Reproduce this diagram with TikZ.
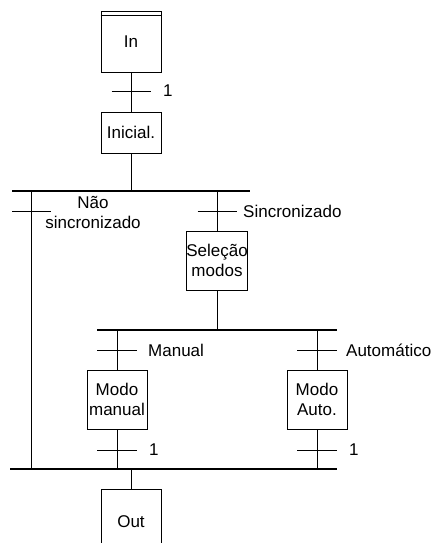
\documentclass[tikz,border=0pt]{standalone}
\usepackage{fontspec}
\setmainfont{Liberation Sans}
\begin{document}
\begin{tikzpicture}[x=1pt,y=-1pt,
  stepbox/.style={draw, line width=1pt, inner sep=0pt, align=center, minimum width=60pt, font=\fontsize{17}{20}\selectfont},
  link/.style={line width=1pt},
  bar/.style={line width=1.8pt},
  trans/.style={line width=1pt},
  lbl/.style={font=\fontsize{17}{20}\selectfont, inner sep=0pt}]
\useasboundingbox (0,0) rectangle (433,543);
\clip (0,0) rectangle (433,543);
% steps
\node[stepbox, minimum height=60pt] (in) at (131,42) {In};
\draw[link] ([yshift=-4pt]in.north west) -- ([yshift=-4pt]in.north east);
\node[stepbox, minimum height=41pt] (ini) at (131,132.5) {Inicial.};
\node[stepbox, minimum height=59pt, minimum width=61pt] (sel) at (217,260.5) {Seleção\\modos};
\node[stepbox, minimum height=59pt] (man) at (117,399.5) {Modo\\manual};
\node[stepbox, minimum height=59pt] (aut) at (317,399.5) {Modo\\Auto.};
\node[stepbox, minimum height=80pt] (out) at (131,529) {\raisebox{14pt}{Out}};
% bars
\coordinate (b1l) at (12,191);  \coordinate (b1r) at (250,191);
\coordinate (b2l) at (97,330);  \coordinate (b2r) at (337,330);
\coordinate (b3l) at (10,469);  \coordinate (b3r) at (337,469);
\draw[bar] (b1l) -- (b1r);
\draw[bar] (b2l) -- (b2r);
\draw[bar] (b3l) -- (b3r);
% bar junction points
\coordinate (j1) at (ini.south |- b1l);
\coordinate (j1a) at (31,191);
\coordinate (j1b) at (sel.north |- b1l);
\coordinate (j2) at (sel.south |- b2l);
\coordinate (j3a) at (31,469);
\coordinate (j3o) at (out.north |- b3l);
% links
\draw[link] (in.south) -- (ini.north);
\draw[link] (ini.south) -- (j1);
\draw[link] (j1a) -- (j3a);
\draw[link] (j1b) -- (sel.north);
\draw[link] (sel.south) -- (j2);
\draw[link] (man.north |- b2l) -- (man.north);
\draw[link] (aut.north |- b2l) -- (aut.north);
\draw[link] (man.south) -- (man.south |- b3l);
\draw[link] (aut.south) -- (aut.south |- b3l);
\draw[link] (j3o) -- (out.north);
% transitions
\coordinate (t0) at (131,91);
\draw[trans] ([xshift=-19.5pt]t0) -- ([xshift=19.5pt]t0);
\node[lbl, anchor=west] (l0) at (163,91) {1};
\coordinate (t1) at (31,211);
\draw[trans] ([xshift=-19pt]t1) -- ([xshift=20pt]t1);
\node[lbl, align=center] (l1) at (93,212) {Não\\sincronizado};
\coordinate (t2) at (217,211);
\draw[trans] ([xshift=-19.5pt]t2) -- ([xshift=19.5pt]t2);
\node[lbl, anchor=west] (l2) at (243,211) {Sincronizado};
\coordinate (t3) at (117,350);
\draw[trans] ([xshift=-20pt]t3) -- ([xshift=20pt]t3);
\node[lbl, anchor=west] (l3) at (148,350) {Manual};
\coordinate (t4) at (317,350);
\draw[trans] ([xshift=-20pt]t4) -- ([xshift=20pt]t4);
\node[lbl, anchor=west] (l4) at (346,350) {Automático};
\coordinate (t5) at (117,450);
\draw[trans] ([xshift=-20pt]t5) -- ([xshift=20pt]t5);
\node[lbl, anchor=west] (l5) at (149,450) {1};
\coordinate (t6) at (317,450);
\draw[trans] ([xshift=-20pt]t6) -- ([xshift=20pt]t6);
\node[lbl, anchor=west] (l6) at (349,450) {1};
\end{tikzpicture}
\end{document}
